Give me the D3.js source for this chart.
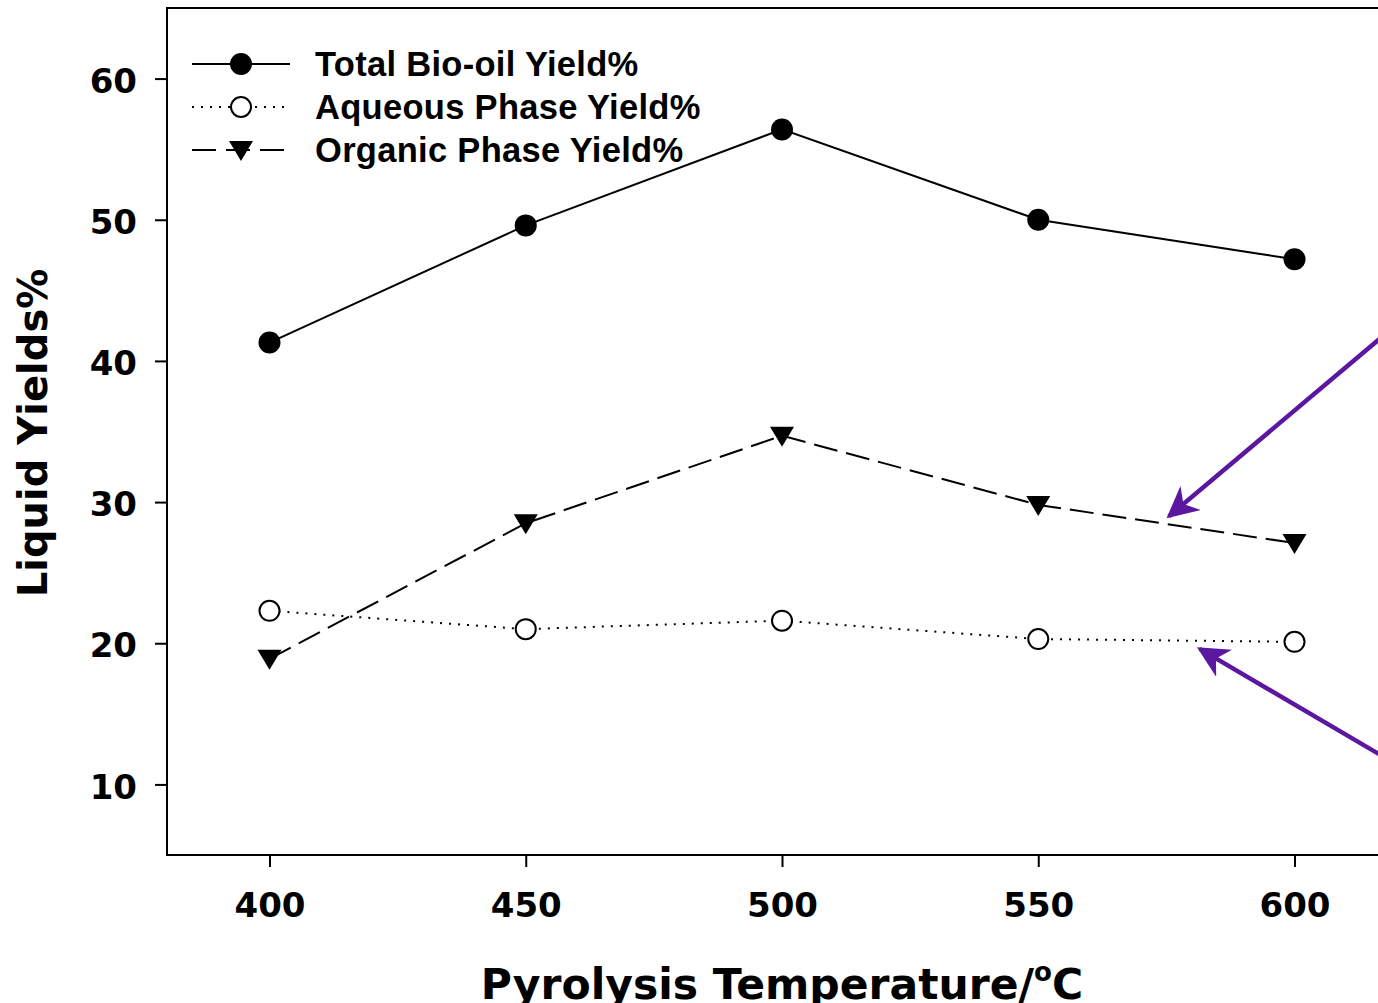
<!DOCTYPE html>
<html>
<head>
<meta charset="utf-8">
<script src="https://cdn.jsdelivr.net/npm/d3@7"></script>
<style>
  body { margin: 0; background: #fff; overflow: hidden; }
  svg { display: block; }
</style>
</head>
<body>
<div id="chart"></div>
<script>
// data
var temps = [400, 450, 500, 550, 600];
var totalYield = [41.3, 49.6, 56.4, 50.0, 47.2];
var aqueousYield = [22.3, 21.0, 21.6, 20.3, 20.1];
var organicYield = [18.9, 28.5, 34.7, 29.8, 27.1];
var xTicks = [400, 450, 500, 550, 600];
var yTicks = [10, 20, 30, 40, 50, 60];
var seriesNames = ["Total Bio-oil Yield%", "Aqueous Phase Yield%", "Organic Phase Yield%"];
// annotation arrows, in data units [fromX, fromY, toX, toY]
var arrows = [[620, 42.6, 575.5, 29.0], [620, 11.4, 581.5, 19.6]];

var svgWidth = 1378, svgHeight = 1003;
var plotLeft = 167, plotTop = 8, plotBottom = 855;

var svg = d3.select("#chart").append("svg")
    .attr("width", svgWidth)
    .attr("height", svgHeight);

var x = d3.scaleLinear().domain([380, 620]).range([plotLeft, 1397]);
var y = d3.scaleLinear().domain([5, 65]).range([plotBottom, plotTop]);

// frame (right side runs off the picture)
svg.append("path")
    .attr("d", "M" + x(620) + "," + plotTop + "H" + plotLeft + "V" + plotBottom + "H" + x(620))
    .attr("fill", "none")
    .attr("stroke", "#000")
    .attr("stroke-width", 2);

var xAxis = svg.append("g")
    .attr("transform", "translate(0," + plotBottom + ")")
    .call(d3.axisBottom(x).tickValues(xTicks).tickSize(12).tickPadding(26).tickFormat(d3.format("d")));
xAxis.select(".domain").remove();
xAxis.selectAll("line").attr("stroke-width", 2);
xAxis.selectAll("text")
    .attr("font-family", "DejaVu Sans")
    .attr("font-weight", "bold")
    .attr("font-size", 34)
    .attr("fill", "#000");

var yAxis = svg.append("g")
    .attr("transform", "translate(" + plotLeft + ",0)")
    .call(d3.axisLeft(y).tickValues(yTicks).tickSize(12).tickPadding(18));
yAxis.select(".domain").remove();
yAxis.selectAll("line").attr("stroke-width", 2);
yAxis.selectAll("text")
    .attr("font-family", "DejaVu Sans")
    .attr("font-weight", "bold")
    .attr("font-size", 34)
    .attr("dy", "0.4em")
    .attr("fill", "#000");

// axis titles
var xTitle = svg.append("text")
    .attr("x", 782)
    .attr("y", 999)
    .attr("text-anchor", "middle")
    .attr("font-family", "DejaVu Sans")
    .attr("font-weight", "bold")
    .attr("font-size", 42.5)
    .text("Pyrolysis Temperature/");
xTitle.append("tspan").attr("font-size", 26).attr("dy", -18).text("o");
xTitle.append("tspan").attr("dy", 18).text("C");

svg.append("text")
    .attr("transform", "translate(47,433) rotate(-90)")
    .attr("text-anchor", "middle")
    .attr("font-family", "DejaVu Sans")
    .attr("font-weight", "bold")
    .attr("font-size", 40)
    .text("Liquid Yields%");

var styles = [
    { data: totalYield, dash: null, marker: "filled" },
    { data: aqueousYield, dash: "2,7", marker: "open" },
    { data: organicYield, dash: "24,9", marker: "tri" }
];

var line = d3.line()
    .x(function(d, i) { return x(temps[i]); })
    .y(function(d) { return y(d); });

function drawMarker(g, kind, cx, cy) {
    if (kind === "filled") {
        g.append("circle").attr("cx", cx).attr("cy", cy).attr("r", 11).attr("fill", "#000");
    } else if (kind === "open") {
        g.append("circle").attr("cx", cx).attr("cy", cy).attr("r", 10)
            .attr("fill", "#fff").attr("stroke", "#000").attr("stroke-width", 2);
    } else {
        g.append("path")
            .attr("transform", "translate(" + cx + "," + cy + ")")
            .attr("d", "M-12,-9L12,-9L0,11Z")
            .attr("fill", "#000");
    }
}

styles.forEach(function(s) {
    svg.append("path")
        .datum(s.data)
        .attr("fill", "none")
        .attr("stroke", "#000")
        .attr("stroke-width", 2)
        .attr("stroke-dasharray", s.dash)
        .attr("d", line);
    var g = svg.append("g");
    s.data.forEach(function(d, i) { drawMarker(g, s.marker, x(temps[i]), y(d)); });
});

// legend
var legend = svg.append("g");
styles.forEach(function(s, i) {
    var ly = 64 + i * 43;
    legend.append("line")
        .attr("x1", 192).attr("x2", 290)
        .attr("y1", ly).attr("y2", ly)
        .attr("stroke", "#000")
        .attr("stroke-width", 2)
        .attr("stroke-dasharray", s.dash === "24,9" ? "24,10" : s.dash);
    drawMarker(legend, s.marker, 241, ly);
    legend.append("text")
        .attr("x", 315)
        .attr("y", ly + 12)
        .attr("font-family", "Liberation Sans")
        .attr("font-weight", "bold")
        .attr("font-size", 34.5)
        .attr("letter-spacing", 0.3)
        .text(seriesNames[i]);
});

// purple arrows
svg.append("defs").append("marker")
    .attr("id", "head")
    .attr("viewBox", "0 0 10 10")
    .attr("refX", 9).attr("refY", 5)
    .attr("markerWidth", 7).attr("markerHeight", 7)
    .attr("markerUnits", "strokeWidth")
    .attr("orient", "auto")
    .append("path")
    .attr("d", "M0,0L10,5L0,10L3,5Z")
    .attr("fill", "#5b17a0");

arrows.forEach(function(a) {
    svg.append("line")
        .attr("x1", x(a[0])).attr("y1", y(a[1]))
        .attr("x2", x(a[2])).attr("y2", y(a[3]))
        .attr("stroke", "#5b17a0")
        .attr("stroke-width", 4.5)
        .attr("marker-end", "url(#head)");
});
</script>
</body>
</html>
